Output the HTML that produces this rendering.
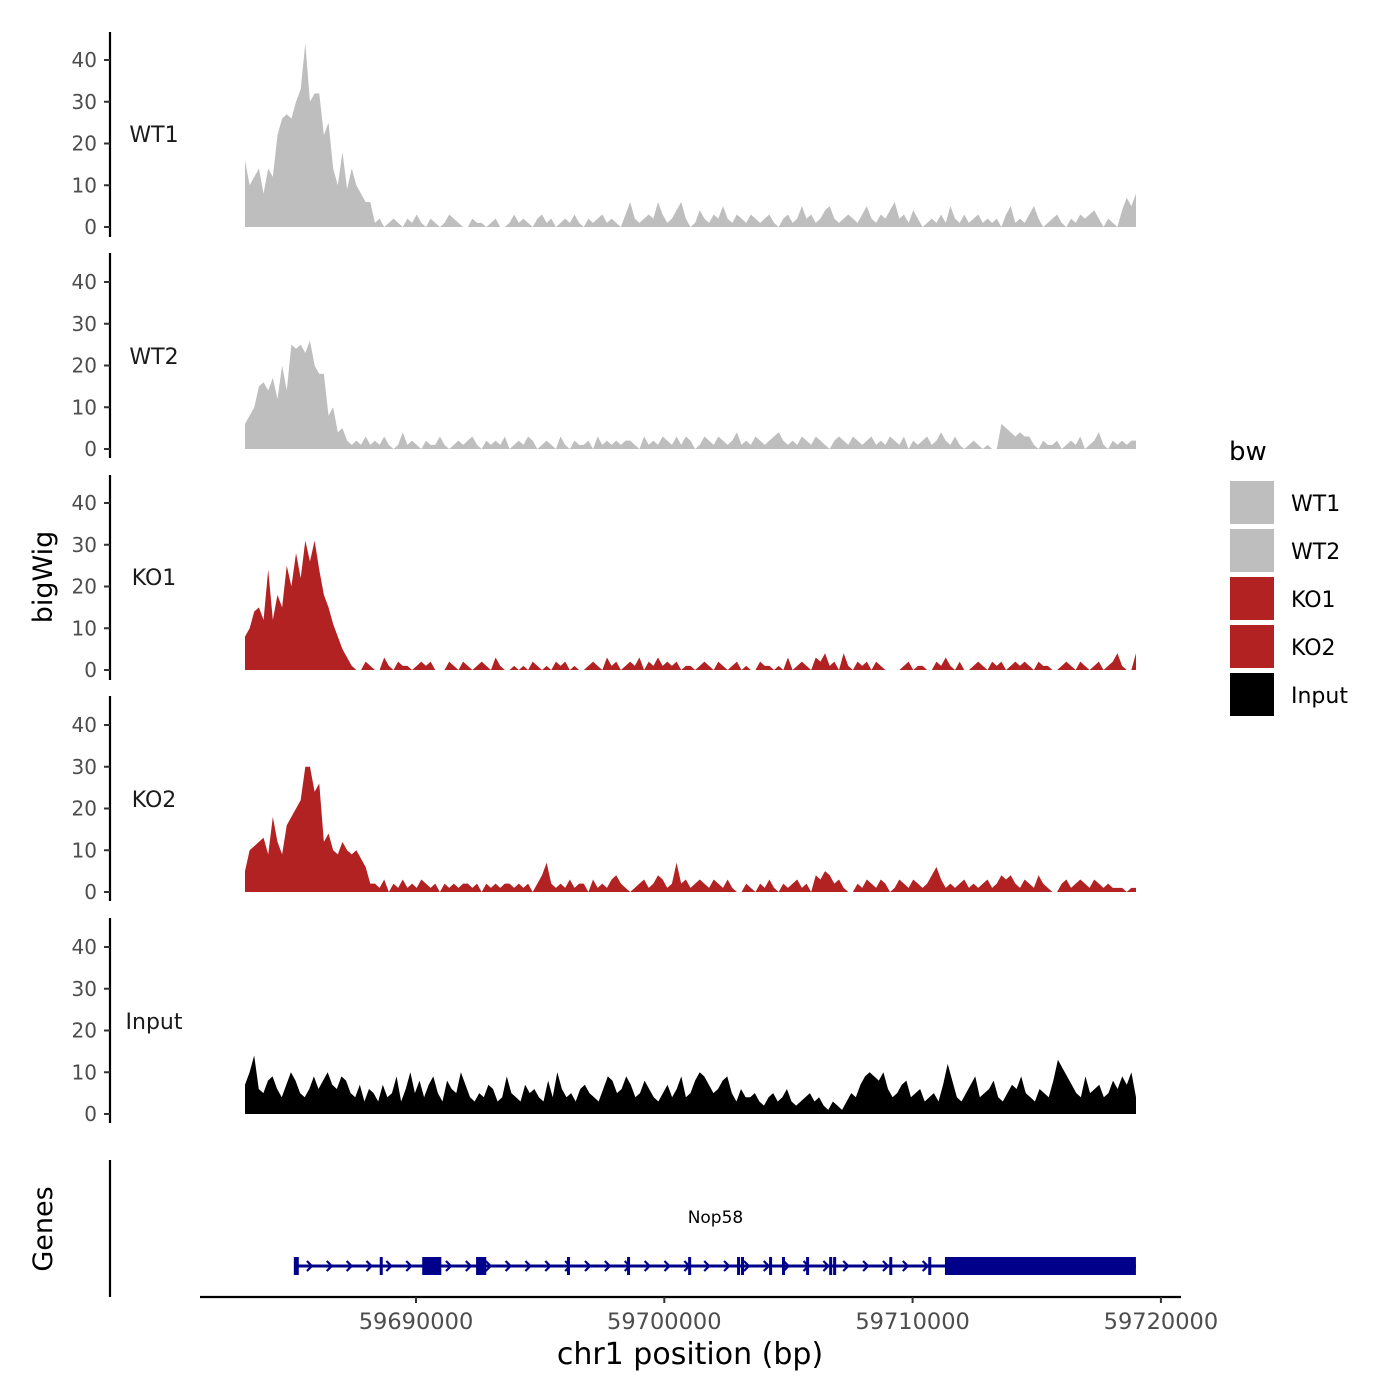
<!DOCTYPE html>
<html><head><meta charset="utf-8"><style>
body{margin:0;background:#fff}
svg{display:block;font-family:"DejaVu Sans","Liberation Sans",sans-serif}
</style></head><body>
<svg id="chart" width="1400" height="1400" viewBox="0 0 1400 1400" xmlns="http://www.w3.org/2000/svg"></svg>
<script>
const trackNames=["WT1","WT2","KO1","KO2","Input"];
const trackColors=["#bebebe","#bebebe","#b22222","#b22222","#000000"];
const wt1=[16,10,12,14,8,14,12,22,26,27,26,30,33,44,30,32,32,22,25,14,10,18,9,14,10,8,6,6,
1,2,0,1,2,1,0,2,1,3, 1,0,2,1,0,1,3,2,1,0, 0,2,1,1,0,1,2,0,0,1, 3,1,2,1,0,2,3,1,2,0,
1,2,1,3,1,0,2,1,2,3, 1,2,1,0,3,6,2,1,2,3, 2,6,3,1,2,4,6,2,0,1, 4,2,1,3,2,5,2,1,3,2,
1,3,2,1,2,3,1,0,2,3, 1,2,5,2,3,1,2,4,5,2, 1,2,3,2,1,3,5,2,1,3, 2,4,6,2,3,1,4,2,0,1,
2,1,3,1,5,2,1,3,1,2, 3,1,2,1,2,0,3,5,1,2, 1,3,5,2,0,1,2,3,1,0, 2,1,3,2,3,4,2,0,2,1, 0,4,7,5,8];
const wt2=[6,8,10,15,16,14,17,12,20,14,25,24,25,23,26,20,18,18,8,10,4,5,2,1,2,1,3,1,
2,1,3,1,0,1,4,1,2,1, 0,2,1,1,3,1,0,1,2,1, 2,3,1,0,2,1,2,1,3,0, 1,2,1,3,2,0,1,2,1,0,
3,1,0,2,1,1,2,0,3,1, 2,1,2,1,2,2,1,0,3,1, 2,1,3,2,1,3,1,3,2,0, 1,3,2,1,3,2,1,2,4,1,
2,1,3,2,1,2,3,4,2,1, 2,1,3,2,1,3,2,1,0,2, 3,2,1,3,2,1,2,3,1,2, 1,3,2,1,3,0,2,1,2,3,
1,2,4,2,1,3,1,0,1,2, 1,0,1,0,0,6,5,4,3,4, 3,3,1,0,2,1,1,2,0,1, 2,1,3,0,1,2,4,1,0,2, 1,2,1,2,2];
const ko1=[8,10,14,15,12,24,12,18,15,25,20,28,22,31,26,31,24,18,15,11,8,5,3,1,0,0,2,1,
0,0,3,1,0,2,1,1,0,1, 2,1,2,0,0,0,2,1,0,2, 1,0,1,2,1,0,3,1,0,0, 1,0,1,0,2,1,0,1,0,2,
1,2,0,1,0,0,1,2,1,0, 3,1,2,0,1,2,1,3,0,2, 1,3,1,2,1,2,0,1,1,0, 1,2,1,0,2,1,0,1,2,0,
1,0,0,2,1,1,0,1,0,3, 0,1,2,1,0,3,2,4,1,2, 0,4,1,0,2,1,2,0,2,1, 0,0,0,0,1,2,0,1,1,0,
0,2,1,3,1,0,2,0,0,1, 2,1,0,2,1,2,0,1,2,1, 2,1,0,2,1,1,0,0,1,2, 1,0,2,1,0,1,2,0,1,2, 4,1,0,0,4];
const ko2=[5,10,11,12,13,9,18,12,9,16,18,20,22,30,30,24,26,12,14,10,9,12,10,9,10,8,6,2,
2,1,3,0,2,1,3,1,2,1, 3,2,1,2,0,2,1,2,1,2, 2,1,2,0,2,1,2,1,2,2, 1,2,1,2,0,2,4,7,2,1,
2,1,3,1,2,2,0,3,1,2, 1,3,4,2,1,0,1,2,3,1, 2,4,3,1,2,7,2,3,1,2, 3,2,1,3,2,1,3,1,0,0,
2,1,0,2,1,3,1,0,2,1, 2,3,1,2,0,4,3,5,4,2, 3,1,0,0,2,1,3,2,1,3, 2,0,1,3,2,1,3,2,1,2,
4,6,3,1,2,1,2,3,1,2, 1,2,3,1,2,4,3,4,2,1, 3,2,1,4,2,1,0,0,2,3, 1,2,3,2,1,3,2,1,2,1, 1,1,0,1,1];
const input=[7,10,14,6,5,8,9,6,4,7, 10,8,5,4,6,9,6,8,10,7, 6,9,8,5,4,7,3,6,5,3, 7,4,5,9,3,6,10,5,8,4,
7,9,5,3,8,6,5,10,7,4, 3,5,4,7,6,3,4,9,5,4, 3,7,5,6,4,3,8,4,10,6, 4,5,3,6,7,5,4,3,6,9,
8,5,6,9,7,4,5,8,6,4, 3,5,7,4,6,9,4,5,8,10, 9,7,5,6,8,9,5,3,6,4, 4,5,3,2,4,5,3,4,6,3,
2,3,4,5,3,4,2,1,3,2, 1,3,5,4,7,9,10,9,8,10, 6,4,5,7,8,4,5,6,3,4, 5,3,7,12,8,4,3,5,7,9,
4,5,6,8,4,3,5,7,6,9, 5,4,3,6,5,4,8,13,11,9, 7,5,4,9,5,6,7,4,5,8, 6,9,7,10,4];
const series=[wt1,wt2,ko1,ko2,input];
const dataStart=59683113, dataEnd=59718997;
const xTicks=[59690000,59700000,59710000,59720000];
const yTicks=[0,10,20,30,40];
const geneName="Nop58";
const geneStart=59685127, geneEnd=59718994;
const exonStarts=[59685080,59688540,59690250,59692420,59696080,59698500,59700960,59702930,59703090,59704220,59704740,59705710,59706640,59706800,59709060,59710630,59711303];
const exonEnds=[59685280,59688600,59691020,59692830,59696140,59698560,59701020,59702990,59703150,59704280,59704800,59705770,59706700,59706860,59709120,59710690,59718994];

const NS="http://www.w3.org/2000/svg";
const svg=document.getElementById('chart');
function mk(tag,attrs,parent){const e=document.createElementNS(NS,tag);for(const k in attrs)e.setAttribute(k,attrs[k]);(parent||svg).appendChild(e);return e;}
const xS=bp=>416+(bp-59690000)*0.02483;
const panelZero=[227,449,670,892,1114];
const yPx=10*4.175;
const panelTop=[32,253,475,696,918];

series.forEach((vals,p)=>{
  const g=mk('g',{});
  
  
  const y0=panelZero[p];
  const yS=v=>y0-v*yPx/10;
  const n=vals.length;
  let d='M'+xS(dataStart)+','+y0;
  vals.forEach((v,i)=>{const bp=dataStart+(dataEnd-dataStart)*i/(n-1);d+=' L'+xS(bp).toFixed(2)+','+yS(v).toFixed(2);});
  d+=' L'+xS(dataEnd)+','+y0+' Z';
  const a=mk('path',{d:d,fill:trackColors[p]},g);
  
  
  const ax=mk('line',{x1:110,x2:110,y1:panelTop[p],y2:panelTop[p]+205,stroke:'#000','stroke-width':2.2},g);
  
  
  yTicks.forEach(t=>{
    const y=yS(t);
    mk('line',{x1:104,x2:110,y1:y,y2:y,stroke:'#333','stroke-width':2},g);
    const tx=mk('text',{x:97,y:y+7,'text-anchor':'end','font-size':20,fill:'#4d4d4d'},g);
    tx.textContent=t;
    
    
  });
  const lb=mk('text',{x:154,y:yS(22)+7,'text-anchor':'middle','font-size':22,fill:'#1a1a1a'},g);
  lb.textContent=trackNames[p];
  
  
});

const yt=mk('text',{x:0,y:0,transform:'translate(52,577) rotate(-90)','text-anchor':'middle','font-size':27,fill:'#000'});
yt.textContent='bigWig';


const gt=mk('text',{x:0,y:0,transform:'translate(52,1229) rotate(-90)','text-anchor':'middle','font-size':27,fill:'#000'});
gt.textContent='Genes';


const gax=mk('line',{x1:110,x2:110,y1:1160,y2:1297,stroke:'#000','stroke-width':2.2});



const gg=mk('g',{});


const gc=1266;
mk('line',{x1:xS(geneStart),x2:xS(geneEnd),y1:gc,y2:gc,stroke:'#00008b','stroke-width':3},gg);
for(let bp=geneStart+600;bp<exonStarts[exonStarts.length-1];bp+=800){
  const x=xS(bp);
  mk('path',{d:`M${x-3},${gc-5} L${x+2},${gc} L${x-3},${gc+5}`,fill:'none',stroke:'#00008b','stroke-width':2.2},gg);
}
exonStarts.forEach((s,i)=>{
  const x1=xS(s),x2=xS(exonEnds[i]);
  const r=mk('rect',{x:x1,y:gc-9,width:Math.max(3,x2-x1),height:18,fill:'#00008b'},gg);
  
  
});
const gn=mk('text',{x:xS((geneStart+geneEnd)/2),y:1223,'text-anchor':'middle','font-size':17,fill:'#000'},gg);
gn.textContent=geneName;



const xax=mk('line',{x1:200,x2:1181,y1:1297,y2:1297,stroke:'#000','stroke-width':2.2});


xTicks.forEach(t=>{
  const x=xS(t);
  mk('line',{x1:x,x2:x,y1:1297,y2:1303,stroke:'#333','stroke-width':2});
  const tx=mk('text',{x:x,y:1329,'text-anchor':'middle','font-size':22.5,fill:'#4d4d4d'});
  tx.textContent=t;
  
  
});
const xt=mk('text',{x:690,y:1364,'text-anchor':'middle','font-size':30,fill:'#000'});
xt.textContent='chr1 position (bp)';



const lg=mk('g',{});


const lt=mk('text',{x:1229,y:460,'font-size':26,fill:'#000'},lg);
lt.textContent='bw';


trackNames.forEach((n,i)=>{
  const y=481+i*48;
  const r=mk('rect',{x:1230,y:y,width:44,height:43,fill:trackColors[i]},lg);
  
  
  const t=mk('text',{x:1291,y:y+30,'font-size':22,fill:'#000'},lg);
  t.textContent=n;
  
  
});
</script>
</body></html>
